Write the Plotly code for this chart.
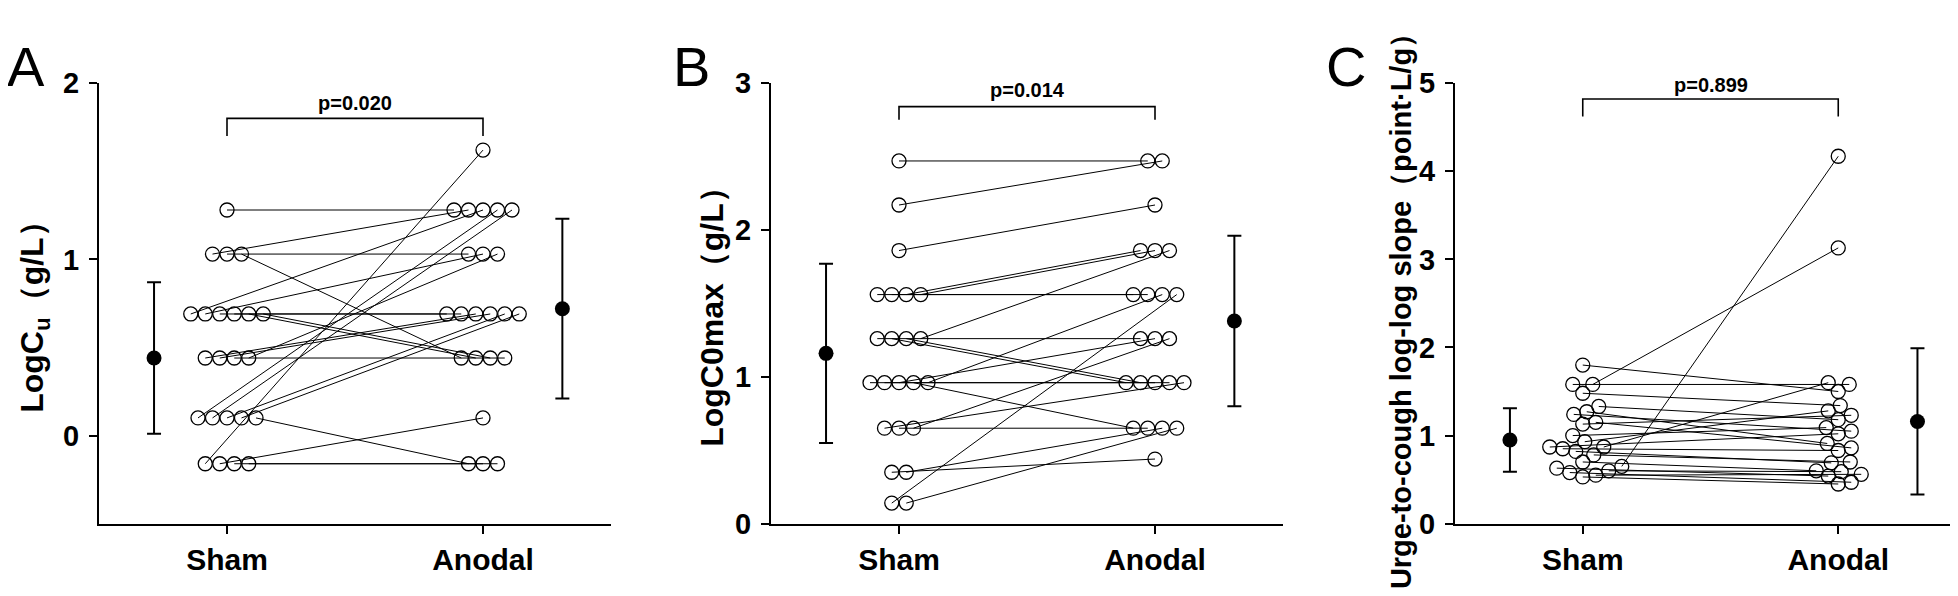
import plotly.graph_objects as go

W, H = 1958, 596
FONT = "Liberation Sans, Arial, sans-serif"

# ---------------- data ----------------
categories = ["Sham", "Anodal"]

# Panel A: LogCu (g/L), paired subjects
sham_A = [1.28, 1.03, 1.03, 1.03, 0.69, 0.69, 0.69, 0.69, 0.69, 0.69, 0.44, 0.44,
          0.44, 0.44, 0.10, 0.10, 0.10, 0.10, 0.10, -0.16, -0.16, -0.16, -0.16]
anodal_A = [1.28, 1.28, 1.03, 0.44, 1.28, 1.03, 0.69, 0.69, 0.44, 0.44, 0.69, 0.69,
            0.44, 1.03, 1.28, 1.28, 0.69, 0.69, -0.16, 1.62, 0.10, -0.16, -0.16]
mean_A = [0.44, 0.72]
sd_A = [0.43, 0.51]
p_A = "p=0.020"

# Panel B: LogC0max (g/L)
sham_B = [2.47, 2.17, 1.86, 1.56, 1.56, 1.56, 1.56, 1.26, 1.26, 1.26, 1.26, 0.96,
          0.96, 0.96, 0.96, 0.96, 0.65, 0.65, 0.65, 0.35, 0.35, 0.14, 0.14]
anodal_B = [2.47, 2.47, 2.17, 1.56, 1.56, 1.86, 1.86, 1.26, 0.96, 0.96, 1.86, 0.96,
            0.96, 1.26, 0.65, 1.56, 0.96, 0.65, 1.26, 0.44, 0.65, 1.56, 0.65]
mean_B = [1.16, 1.38]
sd_B = [0.61, 0.58]
p_B = "p=0.014"

# Panel C: Urge-to-cough log-log slope
sham_C = [1.80, 1.58, 1.58, 1.48, 1.33, 1.27, 1.24, 1.15, 1.13, 1.00, 0.93, 0.87,
          0.87, 0.85, 0.82, 0.78, 0.70, 0.63, 0.65, 0.60, 0.58, 0.55, 0.53]
anodal_C = [1.50, 3.13, 1.58, 1.34, 1.18, 0.91, 1.05, 0.86, 1.23, 1.09, 1.28, 1.60,
            1.02, 0.83, 0.69, 0.70, 0.60, 0.54, 4.17, 0.59, 0.47, 0.56, 0.45]
mean_C = [0.95, 1.16]
sd_C = [0.36, 0.83]
p_C = "p=0.899"

# ---------------- layout parameters ----------------
Y_TOP, Y_BOT = 62.5, 528.0
panels = [
    dict(sham=sham_A, anodal=anodal_A, mean=mean_A, sd=sd_A, p=p_A,
         yr=[-0.5, 2], ticks=[0, 1, 2], px=(91, 603), br=(1.70, 1.80, 1.89),
         title="LogC<sub>u</sub>（g/L）", tx=27, ty=302, tsize=32,
         letter="A", lx=-3, mode="grid"),
    dict(sham=sham_B, anodal=anodal_B, mean=mean_B, sd=sd_B, p=p_B,
         yr=[0, 3], ticks=[0, 1, 2, 3], px=(763, 1275), br=(2.75, 2.84, 2.95),
         title="LogC0max（g/L）", tx=704, ty=301, tsize=32,
         letter="B", lx=663, mode="grid"),
    dict(sham=sham_C, anodal=anodal_C, mean=mean_C, sd=sd_C, p=p_C,
         yr=[0, 5], ticks=[0, 1, 2, 3, 4, 5], px=(1447, 1958), br=(4.62, 4.82, 4.98),
         title="Urge-to-cough log-log slope（point·L/g）", tx=1393, ty=296, tsize=29,
         letter="C", lx=1316, mode="swarm"),
]

MEAN_X = [0.715, 2.31]
SPACING_PX = 14.5


def grid_offsets(vals, ppx):
    groups = {}
    for i, v in enumerate(vals):
        groups.setdefault(v, []).append(i)
    offs = [0.0] * len(vals)
    for v, idx in groups.items():
        n = len(idx)
        for k, i in enumerate(idx):
            offs[i] = (k - (n - 1) / 2) * SPACING_PX / ppx
    return offs


def swarm_offsets(vals, ppx, ppy, D=13.0, step=1.0):
    placed = []
    offs = [0.0] * len(vals)
    order = sorted(range(len(vals)), key=lambda i: vals[i])
    for i in order:
        y = vals[i] * ppy
        k = 0
        chosen = None
        while chosen is None:
            cands = [0.0] if k == 0 else [k * step, -k * step]
            for c in cands:
                if all((c - px) ** 2 + (y - py) ** 2 >= D * D for px, py in placed):
                    chosen = c
                    break
            k += 1
        placed.append((chosen, y))
        offs[i] = chosen / ppx
    return offs


fig = go.Figure()
yd = [1 - Y_BOT / H, 1 - Y_TOP / H]
annotations = []
shapes = []

for j, P in enumerate(panels):
    sfx = "" if j == 0 else str(j + 1)
    xa, ya = "x" + sfx, "y" + sfx
    ppx = (P["px"][1] - P["px"][0]) / 2.0
    ppy = (Y_BOT - Y_TOP) / (P["yr"][1] - P["yr"][0])
    if P["mode"] == "grid":
        o1 = grid_offsets(P["sham"], ppx)
        o2 = grid_offsets(P["anodal"], ppx)
    else:
        o1 = swarm_offsets(P["sham"], ppx, ppy)
        o2 = swarm_offsets(P["anodal"], ppx, ppy)
    x1 = [1 + o for o in o1]
    x2 = [2 + o for o in o2]

    lx, ly = [], []
    for a, b, ya_, yb_ in zip(x1, x2, P["sham"], P["anodal"]):
        lx += [a, b, None]
        ly += [ya_, yb_, None]
    fig.add_trace(go.Scatter(x=lx, y=ly, mode="lines", xaxis=xa, yaxis=ya,
                             line=dict(color="black", width=1), hoverinfo="skip"))
    fig.add_trace(go.Scatter(x=x1 + x2, y=P["sham"] + P["anodal"], mode="markers",
                             xaxis=xa, yaxis=ya,
                             marker=dict(symbol="circle-open", size=14, color="black",
                                         line=dict(width=1.3, color="black"))))
    fig.add_trace(go.Scatter(x=MEAN_X, y=P["mean"], mode="markers", xaxis=xa, yaxis=ya,
                             marker=dict(symbol="circle", size=15, color="black"),
                             error_y=dict(type="data", array=P["sd"], visible=True,
                                          color="black", thickness=2, width=7)))

    axis_common = dict(showline=True, linecolor="black", linewidth=2, ticks="outside",
                       ticklen=8, tickwidth=2, tickcolor="black", showgrid=False,
                       zeroline=False, fixedrange=True)
    fig.layout["xaxis" + sfx] = dict(
        domain=[P["px"][0] / W, min(P["px"][1] / W, 1.0)], range=[0.5, 2.5], anchor=ya,
        tickmode="array", tickvals=[1, 2], ticktext=categories,
        tickfont=dict(family=FONT, size=30, color="black", weight="bold"), **axis_common)
    fig.layout["yaxis" + sfx] = dict(
        domain=yd, range=P["yr"], anchor=xa, tickmode="array", tickvals=P["ticks"],
        ticklabelstandoff=4,
        tickfont=dict(family=FONT, size=29, color="black", weight="bold"), **axis_common)

    b0, b1, bt = P["br"]
    shapes.append(dict(type="path", xref=xa, yref=ya,
                       path=f"M 1,{b0} L 1,{b1} L 2,{b1} L 2,{b0}",
                       line=dict(color="black", width=1.6)))
    annotations.append(dict(x=1.5, y=bt, xref=xa, yref=ya, text=P["p"], showarrow=False,
                            font=dict(family=FONT, size=20, color="black", weight="bold"),
                            xanchor="center", yanchor="middle"))
    annotations.append(dict(x=P["tx"] / W, y=1 - P["ty"] / H, xref="paper", yref="paper",
                            text=P["title"], textangle=-90, showarrow=False,
                            font=dict(family=FONT, size=P["tsize"], color="black",
                                      weight="bold"),
                            xanchor="center", yanchor="middle"))
    annotations.append(dict(x=P["lx"] / W, y=1 - 45 / H, xref="paper", yref="paper",
                            text=P["letter"], showarrow=False,
                            font=dict(family=FONT, size=56, color="black"),
                            xanchor="left", yanchor="middle"))

fig.update_layout(width=W, height=H, margin=dict(l=0, r=0, t=0, b=0),
                  plot_bgcolor="white", paper_bgcolor="white", showlegend=False,
                  annotations=annotations, shapes=shapes)

fig.write_html("out.html")
